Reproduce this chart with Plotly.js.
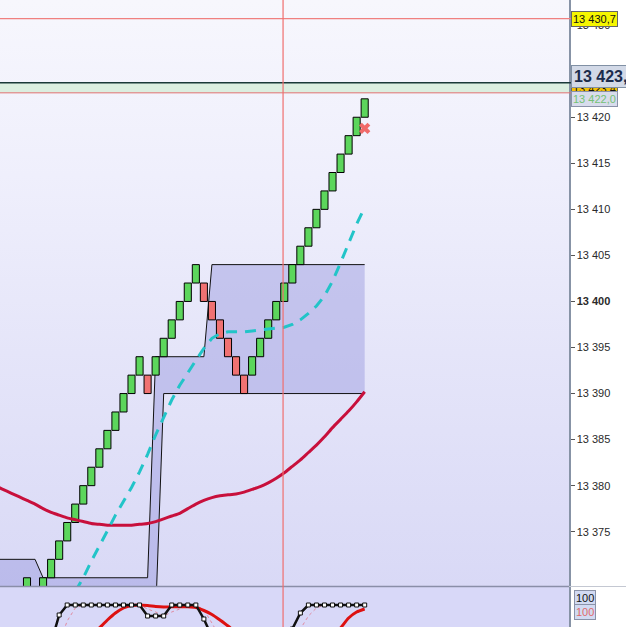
<!DOCTYPE html>
<html>
<head>
<meta charset="utf-8">
<script src="https://cdn.plot.ly/plotly-3.0.1.min.js"></script>
<style>
  html, body { margin: 0; padding: 0; background: #fff; }
  #wrap { position: relative; width: 626px; height: 627px; overflow: hidden; }
  #bgMain { position: absolute; left: 0; top: 0; width: 569px; height: 587px;
    background: linear-gradient(to bottom, #f7f7fd 0%, #efeffc 30%, #e5e5f9 60%, #d9d9f6 100%); }
  #bgSub { position: absolute; left: 0; top: 587px; width: 569px; height: 40px; background: #d8d8f8; }
  #chart { position: absolute; left: 0; top: 0; width: 626px; height: 627px; }
</style>
</head>
<body>
<div id="wrap">
  <div id="bgMain"></div>
  <div id="bgSub"></div>
  <div id="chart"></div>
</div>
<script>
// renko bricks, one per column (2 pt box)
const brickOpen = [13368, 13368, 13368, 13370, 13372, 13374, 13376, 13378, 13380, 13382,
  13384, 13386, 13388, 13390, 13392, 13392, 13392, 13394, 13396, 13398,
  13400, 13402, 13402, 13400, 13398, 13396, 13394, 13392, 13392, 13394,
  13396, 13398, 13400, 13402, 13404, 13406, 13408, 13410, 13412, 13414,
  13416, 13418, 13420]
const brickClose = [13370, 13366, 13370, 13372, 13374, 13376, 13378, 13380, 13382, 13384,
  13386, 13388, 13390, 13392, 13394, 13390, 13394, 13396, 13398, 13400,
  13402, 13404, 13400, 13398, 13396, 13394, 13392, 13390, 13394, 13396,
  13398, 13400, 13402, 13404, 13406, 13408, 13410, 13412, 13414, 13416,
  13418, 13420, 13422]

// line studies start 4 columns before the first brick
const lineStart = -4
const channelUpper = [13372, 13372, 13372, 13372, 13372, 13372,
  13370, 13370, 13370, 13370, 13370, 13370, 13370, 13370, 13370, 13370, 13370, 13370, 13370, 13370,
  13394, 13394, 13394, 13394, 13394, 13394, 13394,
  13404, 13404, 13404, 13404, 13404, 13404, 13404, 13404, 13404, 13404,
  13404, 13404, 13404, 13404, 13404, 13404, 13404, 13404, 13404, 13404]
const channelLower = [13366, 13366, 13366, 13366, 13366, 13366, 13366, 13366, 13366, 13366,
  13366, 13366, 13366, 13366, 13366, 13366, 13366, 13366, 13366, 13366, 13366,
  13390, 13390, 13390, 13390, 13390, 13390, 13390, 13390, 13390, 13390,
  13390, 13390, 13390, 13390, 13390, 13390, 13390, 13390, 13390, 13390,
  13390, 13390, 13390, 13390, 13390, 13390]
const fastMa = [null, null, null, null, null, null, null, null, null, null,
  13368.5, 13370.0, 13371.8, 13373.4, 13375.1, 13376.8, 13378.3, 13379.8, 13381.5, 13383.4,
  13385.5, 13387.5, 13389.3, 13390.9, 13392.3, 13393.6, 13394.9, 13396.0, 13396.5, 13396.7,
  13396.7, 13396.7, 13396.8, 13396.9, 13397.0, 13397.1, 13397.2, 13397.5, 13398.0, 13398.7,
  13399.5, 13400.6, 13402.2, 13404.2, 13406.4, 13408.4, 13410.2]
const slowMa = [13380.0, 13379.6, 13379.2, 13378.8, 13378.4, 13378.0, 13377.5, 13377.1, 13376.8, 13376.5,
  13376.3, 13376.1, 13375.9, 13375.8, 13375.7, 13375.7, 13375.7, 13375.7, 13375.8, 13375.9,
  13376.1, 13376.4, 13376.7, 13377.0, 13377.5, 13378.0, 13378.4, 13378.7, 13378.9, 13379.0,
  13379.1, 13379.3, 13379.6, 13379.9, 13380.3, 13380.8, 13381.4, 13382.1, 13382.8, 13383.6,
  13384.4, 13385.3, 13386.3, 13387.2, 13388.1, 13389.1, 13390.2]

// oscillator pane, one value per brick column
const oscK = [20, 15, 30, 62, 90, 100, 100, 100, 100, 100,
  100, 100, 100, 100, 100, 89, 89, 89, 100, 100,
  100, 100, 86, 60, 40, 25, 15, 5, 10, 20,
  35, 50, 62, 76, 92, 100, 100, 100, 100, 100,
  100, 100, 100]
const oscD = [20, 20, 22, 36, 62, 84, 97, 100, 100, 100,
  100, 100, 100, 100, 100, 96, 93, 89, 93, 96,
  100, 100, 95, 82, 62, 42, 27, 15, 10, 12,
  22, 35, 49, 63, 76, 89, 97, 100, 100, 100,
  100, 100, 100]
const oscSignal = [20, 25, 30, 38, 45, 52, 58, 65, 71, 77,
  85, 92, 97, 99.5, 100, 99.5, 98.5, 98, 98.2, 98.3,
  98.2, 97.5, 94.5, 90.5, 85, 79, 72, 64, 57, 52,
  50, 51, 54, 58, 55, 52, 55, 60, 68, 77,
  87, 93, 96]

const yTicks = [13375, 13380, 13385, 13390, 13395, 13400, 13405, 13410, 13415, 13420, 13425, 13430]
const yTickText = ['13 375', '13 380', '13 385', '13 390', '13 395', '<b>13 400</b>', '13 405', '13 410', '13 415', '13 420', '13 425', '13 430']

const lastPrice = 13424.42
const askPrice = 13423.75
const bidPrice = 13422.65
const alertPrice = 13430.7
const cursorCol = 31.85
const signalCol = 42
const signalPrice = 13418.8

const brickCols = brickOpen.map((_, i) => i)
const lineCols = channelUpper.map((_, i) => i + lineStart)
const priceRange = [13369.05, 13432.73]

function bricks (up) {
  const xs = []
  const bases = []
  const hs = []
  for (let i = 0; i < brickOpen.length; i++) {
    if ((brickClose[i] > brickOpen[i]) !== up) continue
    xs.push(brickCols[i])
    bases.push(Math.min(brickOpen[i], brickClose[i]))
    hs.push(Math.abs(brickClose[i] - brickOpen[i]))
  }
  return {
    type: 'bar',
    x: xs,
    y: hs,
    base: bases,
    yaxis: 'y3',
    width: 0.88,
    marker: { color: up ? '#5cd65c' : '#f07272', line: { color: '#000', width: 1 } },
    showlegend: false
  }
}

const data = [
  // channel sits on the base subplot so the bricks (overlay axis) draw over its fill
  { x: lineCols, y: channelLower, mode: 'lines', line: { color: '#111', width: 1 }, showlegend: false },
  { x: lineCols, y: channelUpper, mode: 'lines', line: { color: '#111', width: 1 }, fill: 'tonexty', fillcolor: 'rgba(150,150,222,0.45)', showlegend: false },
  bricks(true),
  bricks(false),
  { x: lineCols, y: slowMa, yaxis: 'y3', mode: 'lines', line: { color: '#c8103c', width: 3, shape: 'spline', smoothing: 0.6 }, showlegend: false },
  { x: lineCols, y: fastMa, yaxis: 'y3', mode: 'lines', line: { color: '#22c4c8', width: 3, dash: '11px,8px' }, showlegend: false },
  { x: [signalCol], y: [signalPrice], yaxis: 'y3', mode: 'markers', marker: { symbol: 'x', size: 10, color: '#f06a6a' }, showlegend: false },
  // oscillator pane
  { x: brickCols, y: oscD, yaxis: 'y2', mode: 'lines', line: { color: '#e08aa0', width: 1, dash: '3px,3px' }, showlegend: false },
  { x: brickCols, y: oscSignal, yaxis: 'y2', mode: 'lines', line: { color: '#dd1111', width: 3, shape: 'spline', smoothing: 0.6 }, showlegend: false },
  { x: brickCols, y: oscK, yaxis: 'y2', mode: 'lines+markers', line: { color: '#111', width: 2.5 }, marker: { symbol: 'square', size: 4, color: '#fff', line: { color: '#111', width: 1 } }, showlegend: false }
]

const axisFont = { family: 'Liberation Sans, Arial, sans-serif', size: 11, color: '#2a2a2a' }
const split = 40.5 / 627
const xEnd = 569 / 626

const layout = {
  width: 626,
  height: 627,
  margin: { l: 0, r: 0, t: 0, b: 0 },
  paper_bgcolor: 'rgba(0,0,0,0)',
  plot_bgcolor: 'rgba(0,0,0,0)',
  barmode: 'overlay',
  showlegend: false,
  xaxis: {
    domain: [0, xEnd],
    range: [-3.358, -3.358 + 569 / 8.04],
    showticklabels: false,
    ticks: '',
    showgrid: false,
    zeroline: false
  },
  yaxis: {
    domain: [split, 1],
    range: priceRange,
    side: 'right',
    tickvals: yTicks,
    ticktext: yTickText,
    ticks: 'outside',
    ticklen: 4,
    tickcolor: '#555',
    tickfont: axisFont,
    showline: true,
    linecolor: '#8793a6',
    linewidth: 1.5,
    showgrid: false,
    zeroline: false
  },
  yaxis3: {
    overlaying: 'y',
    range: priceRange,
    side: 'right',
    visible: false,
    showgrid: false,
    zeroline: false
  },
  yaxis2: {
    domain: [0, split],
    range: [78, 118.5],
    side: 'right',
    anchor: 'x',
    showticklabels: false,
    ticks: '',
    showline: true,
    linecolor: '#8793a6',
    linewidth: 1.5,
    showgrid: false,
    zeroline: false
  },
  shapes: [
    { type: 'rect', xref: 'paper', yref: 'y', x0: 0, x1: 573 / 626, y0: bidPrice, y1: askPrice, fillcolor: '#dbeee0', line: { width: 0 }, layer: 'below' },
    { type: 'line', xref: 'paper', yref: 'y', x0: 0, x1: 573 / 626, y0: askPrice, y1: askPrice, line: { color: '#1a3838', width: 1.5 } },
    { type: 'line', xref: 'paper', yref: 'y', x0: 0, x1: 573 / 626, y0: bidPrice, y1: bidPrice, line: { color: '#e07070', width: 1 } },
    { type: 'line', xref: 'paper', yref: 'y', x0: 0, x1: 573 / 626, y0: alertPrice, y1: alertPrice, line: { color: '#f08080', width: 1.2 } },
    { type: 'line', xref: 'paper', yref: 'paper', x0: 0, x1: xEnd, y0: split, y1: split, line: { color: '#8a8ea8', width: 1.5 } },
    { type: 'line', xref: 'paper', yref: 'paper', x0: xEnd, x1: 1, y0: split, y1: split, line: { color: '#c4c8d2', width: 1 } },
    { type: 'line', xref: 'x', yref: 'paper', x0: cursorCol, x1: cursorCol, y0: 0, y1: 1, line: { color: 'rgba(240,110,110,0.8)', width: 1.5 }, layer: 'above' }
  ],
  annotations: [
    { xref: 'paper', yref: 'y', x: 571 / 626, y: alertPrice, xanchor: 'left', text: '13 430,7', showarrow: false, bgcolor: '#f6f600', bordercolor: '#666', borderwidth: 1, borderpad: 1, font: { family: axisFont.family, size: 11, color: '#111' } },
    { xref: 'paper', yref: 'y', x: 571 / 626, y: 13423.1, xanchor: 'left', text: '13 423,4', showarrow: false, bgcolor: '#f3c20a', bordercolor: '#666', borderwidth: 1, borderpad: 1, font: { family: axisFont.family, size: 11, color: '#111' } },
    { xref: 'paper', yref: 'y', x: 571 / 626, y: 13421.98, xanchor: 'left', text: '13 422,0', showarrow: false, bgcolor: '#d8dcec', bordercolor: '#8a92a8', borderwidth: 1, borderpad: 1, font: { family: axisFont.family, size: 11, color: '#74c274' } },
    { xref: 'paper', yref: 'y', x: 571 / 626, y: lastPrice, xanchor: 'left', text: '<b>13 423,5</b>', showarrow: false, bgcolor: '#d2d9e7', bordercolor: '#8090a4', borderwidth: 1, borderpad: 2, font: { family: axisFont.family, size: 16, color: '#1c2c4c' } },
    { xref: 'paper', yref: 'y2', x: 574 / 626, y: 107, xanchor: 'left', text: '100', showarrow: false, bgcolor: '#d2daf2', bordercolor: '#8a92a8', borderwidth: 1, borderpad: 1, font: { family: axisFont.family, size: 11, color: '#111' } },
    { xref: 'paper', yref: 'y2', x: 574 / 626, y: 93, xanchor: 'left', text: '100', showarrow: false, bgcolor: '#d2daf2', bordercolor: '#8a92a8', borderwidth: 1, borderpad: 1, font: { family: axisFont.family, size: 11, color: '#e06a6a' } }
  ]
}

Plotly.newPlot('chart', data, layout, { staticPlot: true, displayModeBar: false })
</script>
</body>
</html>
